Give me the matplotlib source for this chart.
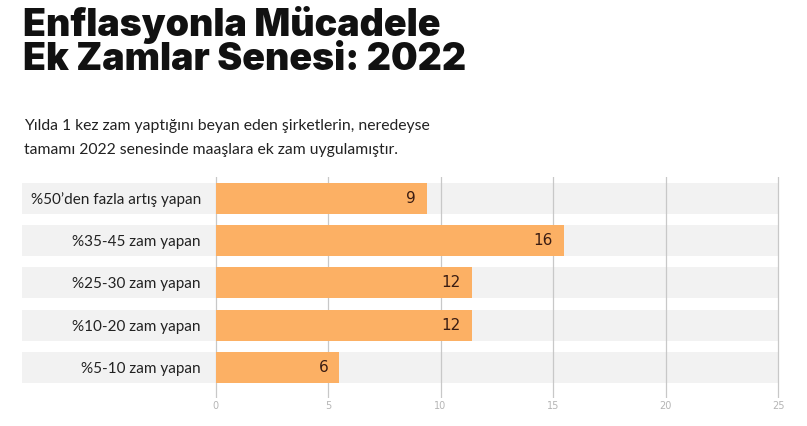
import numpy as np
import matplotlib
matplotlib.use("Agg")
import matplotlib.pyplot as plt

# Data
categories = ["%50\u2019den fazla artış yapan", "%35-45 zam yapan", "%25-30 zam yapan",
              "%10-20 zam yapan", "%5-10 zam yapan"]
values = [9.4, 15.5, 11.4, 11.4, 5.5]
value_labels = ["9", "16", "12", "12", "6"]
x_ticks = [0, 5, 10, 15, 20, 25]

title = "Enflasyonla Mücadele\nEk Zamlar Senesi: 2022"
subtitle = ("Yılda 1 kez zam yaptığını beyan eden şirketlerin, neredeyse\n"
            "tamamı 2022 senesinde maaşlara ek zam uygulamıştır.")

bar_color = "#fcb064"
band_color = "#f2f2f2"
text_font = "Lato"

fig = plt.figure(figsize=[8.07, 4.26], dpi=100)
ax = fig.add_axes([0.2559, 0.0657, 0.7166, 0.5188])

y = np.arange(len(categories))

# grey background bands that run under the labels too
band_left = -8.6
ax.barh(y, width=25 - band_left, left=band_left, height=0.73,
        color=band_color, clip_on=False, zorder=0)

for xt in x_ticks:
    ax.axvline(xt, color="#c8c8c8", lw=0.9, zorder=1)

ax.barh(y, values, height=0.73, color=bar_color, zorder=2)

for yi, v, lab in zip(y, values, value_labels):
    ax.annotate(lab, (v, yi), xytext=(-8, 0), textcoords="offset points",
                ha="right", va="center", fontsize=11, color="#3a1c12",
                family="DejaVu Sans", zorder=3)

ax.set_xlim(-0.4, 25.3)
ax.set_ylim(4.72, -0.5)
ax.set_xticks(x_ticks)
ax.set_xticklabels([str(t) for t in x_ticks], fontsize=7, color="#b5b5b5")
ax.set_yticks(y)
ax.set_yticklabels(categories, fontsize=11, family=text_font, color="#222222")
ax.tick_params(axis="both", length=0)
ax.tick_params(axis="y", pad=4)
ax.tick_params(axis="x", pad=2)
for s in ax.spines.values():
    s.set_visible(False)

fig.text(23 / 807, 1 - 6 / 426, title, ha="left", va="top", fontsize=27,
         fontweight="black", family="Inter", color="#111111", linespacing=0.92)
fig.text(24 / 807, 1 - 119 / 426, subtitle, ha="left", va="top", fontsize=11.3,
         family=text_font, color="#222222", linespacing=1.95)

fig.savefig("out.png", dpi=100)
